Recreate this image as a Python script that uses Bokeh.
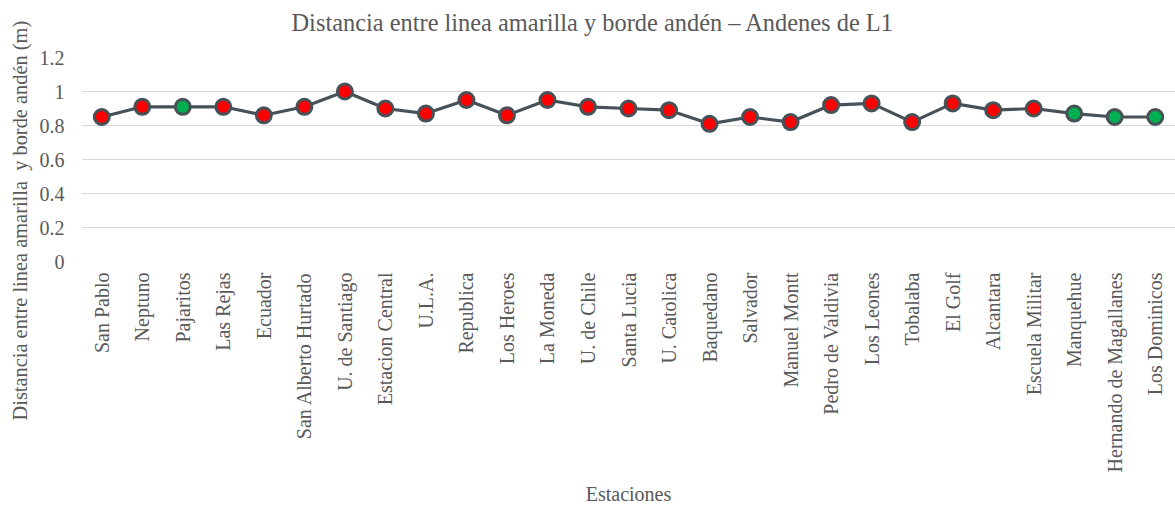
import math
from bokeh.plotting import figure
from bokeh.models import ColumnDataSource, FactorRange, Range1d, FixedTicker, Title
from bokeh.transform import factor_cmap
from bokeh.embed import file_html
from bokeh.resources import INLINE

estaciones = ["San Pablo", "Neptuno", "Pajaritos", "Las Rejas", "Ecuador",
              "San Alberto Hurtado", "U. de Santiago", "Estacion Central", "U.L.A.",
              "Republica", "Los Heroes", "La Moneda", "U. de Chile", "Santa Lucia",
              "U. Catolica", "Baquedano", "Salvador", "Manuel Montt", "Pedro de Valdivia",
              "Los Leones", "Tobalaba", "El Golf", "Alcantara", "Escuela Militar",
              "Manquehue", "Hernando de Magallanes", "Los Dominicos"]
distancia = [0.85, 0.91, 0.91, 0.91, 0.86, 0.91, 1.00, 0.90, 0.87, 0.95, 0.86, 0.95,
             0.91, 0.90, 0.89, 0.81, 0.85, 0.82, 0.92, 0.93, 0.82, 0.93, 0.89, 0.90,
             0.87, 0.85, 0.85]
estado = ["no", "no", "si", "no", "no", "no", "no", "no", "no", "no", "no", "no",
          "no", "no", "no", "no", "no", "no", "no", "no", "no", "no", "no", "no",
          "si", "si", "si"]
y_ticks = [0, 0.2, 0.4, 0.6, 0.8, 1, 1.2]
y_tick_labels = ["0", "0.2", "0.4", "0.6", "0.8", "1", "1.2"]

FONT = "Liberation Serif"
TXT = "#595959"
LINE = "#475158"

src = ColumnDataSource(dict(x=estaciones, y=distancia, estado=estado))

p = figure(width=1175, height=508, x_range=FactorRange(*estaciones),
           y_range=Range1d(0, 1.2), output_backend="svg", toolbar_location=None,
           min_border_left=81, min_border_right=0, min_border_top=57,
           min_border_bottom=246)
p.outline_line_color = None
p.background_fill_color = "white"
p.border_fill_color = "white"

p.title.text = "Distancia entre linea amarilla y borde andén – Andenes de L1"
p.title.align = "left"
p.title.offset = 210
p.title.standoff = 12
p.title.text_font = FONT
p.title.text_font_size = "24.4px"
p.title.text_font_style = "normal"
p.title.text_color = TXT

# blank spacer between the title and the plot area
p.add_layout(Title(text=" ", text_font_size="12px", standoff=0), "above")

p.add_layout(Title(text="Distancia entre linea amarilla\u00a0 y borde andén (m)",
                   align="left", offset=-159, standoff=12,
                   text_font=FONT, text_font_size="20.4px", text_font_style="normal",
                   text_color=TXT), "left")

p.line("x", "y", source=src, line_color=LINE, line_width=3.2)
p.scatter("x", "y", source=src, size=15, line_color=LINE, line_width=3,
          fill_color=factor_cmap("estado", ["#FF0000", "#00B050"], ["no", "si"]))

p.xgrid.grid_line_color = None
p.ygrid.grid_line_color = "#D9D9D9"
p.ygrid.grid_line_width = 1

p.yaxis.ticker = FixedTicker(ticks=y_ticks)
p.yaxis.major_label_overrides = {t: l for t, l in zip(y_ticks, y_tick_labels)}
for ax in (p.xaxis, p.yaxis):
    ax.axis_line_color = None
    ax.major_tick_line_color = None
    ax.minor_tick_line_color = None
    ax.major_tick_out = 0
    ax.major_tick_in = 0
    ax.major_label_text_font = FONT
    ax.major_label_text_font_size = "20px"
    ax.major_label_text_color = TXT
    ax.axis_label_text_font = FONT
    ax.axis_label_text_font_size = "20px"
    ax.axis_label_text_color = TXT
    ax.axis_label_text_font_style = "normal"

p.yaxis.major_label_standoff = 17
p.xaxis.major_label_standoff = 11
p.xaxis.major_label_orientation = math.pi / 2
p.xaxis.axis_label = "Estaciones"
p.xaxis.axis_label_standoff = 8

open("out.html", "w").write(file_html(p, INLINE))
